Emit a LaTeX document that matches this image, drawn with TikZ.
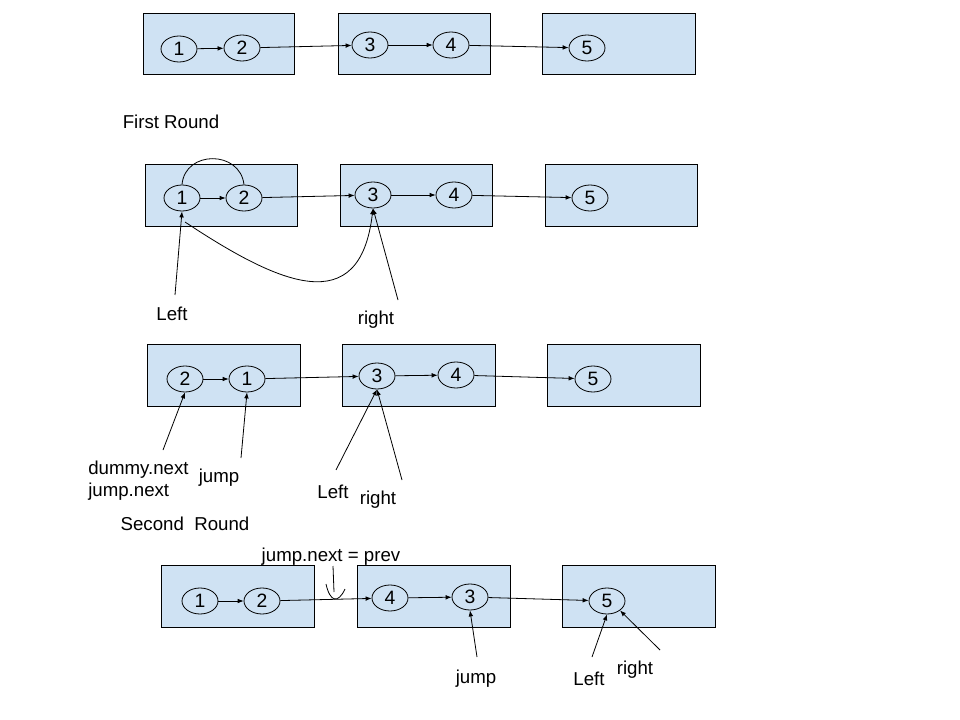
\documentclass[tikz,border=0pt]{standalone}
\usepackage{fontspec}
\setmainfont{Liberation Sans}
\usetikzlibrary{shapes.geometric,arrows.meta}
\definecolor{boxblue}{HTML}{CFE2F3}
\tikzset{
  listbox/.style={draw=black, fill=boxblue, line width=0.6pt},
  elem/.style={draw, ellipse, line width=0.6pt, minimum width=27pt, minimum height=19.5pt, inner sep=0pt, font=\fontsize{14.5}{16}\selectfont},
  link/.style={line width=0.6pt, -{Latex[length=4.5pt,width=3.5pt]}},
  lbl/.style={font=\fontsize{14}{15.5}\selectfont, inner sep=0pt}
}
\begin{document}
\begin{tikzpicture}[x=0.75pt,y=-0.75pt]
    \useasboundingbox[fill=white] (0,0) rectangle (960,720);

    % initial list
    \draw[listbox] (143,13) rectangle (294,74);
    \draw[listbox] (338,13) rectangle (490,74);
    \draw[listbox] (542,13) rectangle (695,74);
    \node[elem] (a1) at (179,49) {1};
    \node[elem] (a2) at (242,48) {2};
    \node[elem] (a3) at (370,45) {3};
    \node[elem] (a4) at (451,45) {4};
    \node[elem] (a5) at (587,48) {5};
    \draw[link] (a1) -- (a2);
    \draw[link] (a2) -- (a3);
    \draw[link] (a3) -- (a4);
    \draw[link] (a4) -- (a5);

    \node[lbl] (first) at (171,122) {First Round};

    % first round
    \draw[listbox] (145,164) rectangle (297,226);
    \draw[listbox] (340,164) rectangle (492,226);
    \draw[listbox] (545,164) rectangle (697,226);
    \node[elem] (b1) at (182,198) {1};
    \node[elem] (b2) at (244,198) {2};
    \node[elem] (b3) at (373,195) {3};
    \node[elem] (b4) at (454,195) {4};
    \node[elem] (b5) at (590,198) {5};
    \draw[link] (b1) -- (b2);
    \draw[link] (b2) -- (b3);
    \draw[link] (b3) -- (b4);
    \draw[link] (b4) -- (b5);
    \draw[line width=0.6pt] (b1.north) .. controls (185,150) and (240,150) .. (b2.north);
    \coordinate (bstart) at (185,222);
    \draw[link] (bstart) .. controls (280,285) and (360,320) .. (b3.south);

    \node[lbl] (bleft) at (172,314) {Left};
    \node[lbl] (bright) at (376,320) {right};
    \coordinate (bl) at (175,295);
    \coordinate (br) at (398,300);
    \draw[link] (bl) -- (b1.south);
    \draw[link] (br) -- (b3.south);

    % after first round
    \draw[listbox] (147,344) rectangle (300,406);
    \draw[listbox] (342,344) rectangle (495,406);
    \draw[listbox] (547,344) rectangle (700,406);
    \node[elem] (c2) at (185,379) {2};
    \node[elem] (c1) at (247,379) {1};
    \node[elem] (c3) at (377,376) {3};
    \node[elem] (c4) at (456,375) {4};
    \node[elem] (c5) at (593,379) {5};
    \draw[link] (c2) -- (c1);
    \draw[link] (c1) -- (c3);
    \draw[link] (c3) -- (c4);
    \draw[link] (c4) -- (c5);

    \node[lbl, anchor=west, align=left] (cdummy) at (88,481) {dummy.next\\[1pt]jump.next};
    \node[lbl] (cjump) at (219,478) {jump};
    \node[lbl] (cleft) at (333,492) {Left};
    \node[lbl] (cright) at (378,500) {right};
    \coordinate (cd) at (163,450);
    \coordinate (cj) at (241,458);
    \coordinate (cl) at (336,470);
    \coordinate (cr) at (402,480);
    \draw[link] (cd) -- (c2.south);
    \draw[link] (cj) -- (c1.south);
    \draw[link] (cl) -- (c3.south);
    \draw[link] (cr) -- (c3.south);

    \node[lbl] (second) at (185,524) {Second\ \ Round};

    % second round
    \draw[listbox] (161,565) rectangle (314,627);
    \draw[listbox] (357,565) rectangle (510,627);
    \draw[listbox] (562,565) rectangle (715,627);
    \node[elem] (d1) at (200,601) {1};
    \node[elem] (d2) at (262,601) {2};
    \node[elem] (d4) at (390,598) {4};
    \node[elem] (d3) at (470,597) {3};
    \node[elem] (d5) at (607,601) {5};
    \draw[link] (d1) -- (d2);
    \draw[link] (d2) -- (d4);
    \draw[link] (d4) -- (d3);
    \draw[link] (d3) -- (d5);

    \node[lbl] (dnote) at (331,557) {jump.next = prev};
    \draw[line width=0.6pt] (333,566) -- (334,592);
    \draw[line width=0.6pt] (326,584) .. controls (330,602) and (338,604) .. (345,589);

    \node[lbl] (djump) at (476,679) {jump};
    \node[lbl] (dleft) at (589,679) {Left};
    \node[lbl] (dright) at (635,670) {right};
    \coordinate (dj) at (477,657);
    \coordinate (dl) at (592,657);
    \coordinate (dr) at (660,650);
    \draw[link] (dj) -- (d3.south);
    \draw[link] (dl) -- (d5.south);
    \draw[link] (dr) -- (d5.south east);

\end{tikzpicture}
\end{document}
